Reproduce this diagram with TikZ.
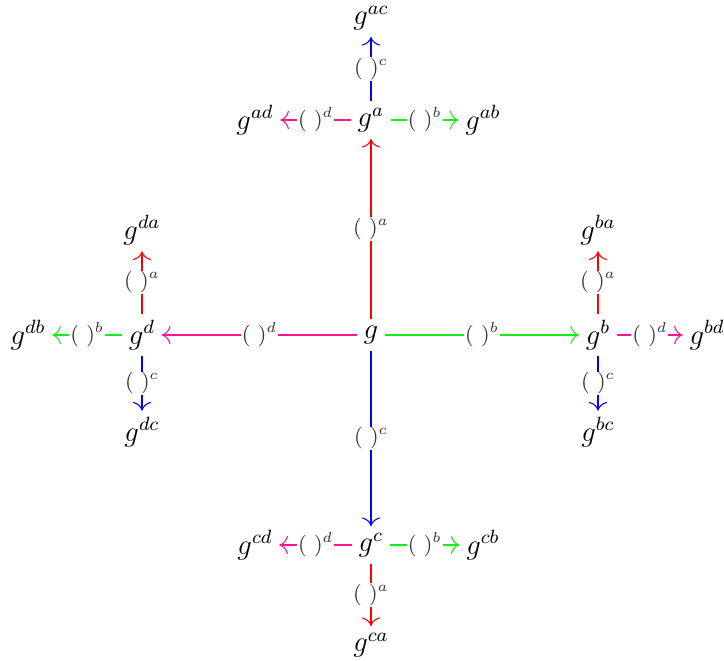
\documentclass[tikz,border=0pt]{standalone}
\usetikzlibrary{arrows.meta}
\definecolor{ca}{rgb}{1,0,0}
\definecolor{cb}{rgb}{0.1,0.92,0.1}
\definecolor{cc}{rgb}{0,0,1}
\definecolor{cd}{rgb}{1,0.08,0.58}
\begin{document}
\begin{tikzpicture}[x=0.4167pt,y=-0.4167pt,
  obj/.style={font=\large, inner sep=2.6pt},
  lab/.style={fill=white, inner sep=0.4pt, font=\small, text=black!80},
  arr/.style={-{To[scale=1.4]}, line width=0.45pt}]
\useasboundingbox (0,0) rectangle (724,661);
\node[obj] (g)   at (371,335) {$g$};
\node[obj] (ga)  at (371,120) {$g^{a}$};
\node[obj] (gac) at (371,18)  {$g^{ac}$};
\node[obj] (gad) at (255,120) {$g^{ad}$};
\node[obj] (gab) at (483,120) {$g^{ab}$};
\node[obj] (gd)  at (142,335) {$g^{d}$};
\node[obj] (gdb) at (28,335)  {$g^{db}$};
\node[obj] (gda) at (142,230) {$g^{da}$};
\node[obj] (gdc) at (142,432) {$g^{dc}$};
\node[obj] (gb)  at (598,335) {$g^{b}$};
\node[obj] (gbd) at (707,335) {$g^{bd}$};
\node[obj] (gba) at (598,230) {$g^{ba}$};
\node[obj] (gbc) at (598,432) {$g^{bc}$};
\node[obj] (gc)  at (371,545) {$g^{c}$};
\node[obj] (gcd) at (255,545) {$g^{cd}$};
\node[obj] (gcb) at (483,545) {$g^{cb}$};
\node[obj] (gca) at (371,645) {$g^{ca}$};

% connectors
\draw[arr,draw=ca] (g) -- (ga);
\draw[arr,draw=cb] (g) -- (gb);
\draw[arr,draw=cc] (g) -- (gc);
\draw[arr,draw=cd] (g) -- (gd);
\draw[arr,draw=cc] (ga) -- (gac);
\draw[arr,draw=cd] (ga) -- (gad);
\draw[arr,draw=cb] (ga) -- (gab);
\draw[arr,draw=cb] (gd) -- (gdb);
\draw[arr,draw=ca] (gd) -- (gda);
\draw[arr,draw=cc] (gd) -- (gdc);
\draw[arr,draw=cd] (gb) -- (gbd);
\draw[arr,draw=ca] (gb) -- (gba);
\draw[arr,draw=cc] (gb) -- (gbc);
\draw[arr,draw=cd] (gc) -- (gcd);
\draw[arr,draw=cb] (gc) -- (gcb);
\draw[arr,draw=ca] (gc) -- (gca);

% labels
\path (g) -- node[lab] (l1) {$(\ )^a$} (ga);
\path (g) -- node[lab] (l2) {$(\ )^b$} (gb);
\path (g) -- node[lab] (l3) {$(\ )^c$} (gc);
\path (g) -- node[lab] (l4) {$(\ )^d$} (gd);
\path (ga) -- node[lab] (l5) {$(\ )^c$} (gac);
\path (ga) -- node[lab] (l6) {$(\ )^d$} (gad);
\path (ga) -- node[lab] (l7) {$(\ )^b$} (gab);
\path (gd) -- node[lab] (l8) {$(\ )^b$} (gdb);
\path (gd) -- node[lab] (l9) {$(\ )^a$} (gda);
\path (gd) -- node[lab] (l10) {$(\ )^c$} (gdc);
\path (gb) -- node[lab] (l11) {$(\ )^d$} (gbd);
\path (gb) -- node[lab] (l12) {$(\ )^a$} (gba);
\path (gb) -- node[lab] (l13) {$(\ )^c$} (gbc);
\path (gc) -- node[lab] (l14) {$(\ )^d$} (gcd);
\path (gc) -- node[lab] (l15) {$(\ )^b$} (gcb);
\path (gc) -- node[lab] (l16) {$(\ )^a$} (gca);
\end{tikzpicture}
\end{document}
